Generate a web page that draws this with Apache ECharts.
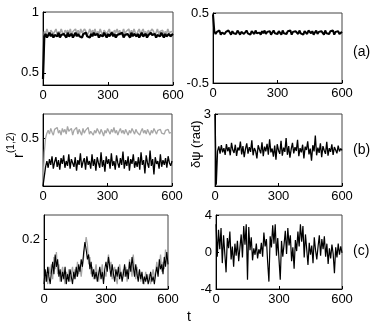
<!DOCTYPE html>
<html>
<head>
<meta charset="utf-8">
<title>r and delta psi vs t</title>
<script src="https://cdn.jsdelivr.net/npm/echarts@6/dist/echarts.min.js"></script>
<style>
  html, body { margin: 0; padding: 0; background: #fff; }
  #main { width: 382px; height: 327px; }
</style>
</head>
<body>
<div id="main"></div>
<script>
// time axis: every series is sampled evenly from t = 0 to t = 600
var T_MAX = 600;
var xTicks = [0, 300, 600];

// row (a)
var aLeftGray = [0.5, 0.84, 0.82, 0.86, 0.83, 0.81, 0.85, 0.86, 0.82, 0.83, 0.86, 0.81, 0.84, 0.82, 0.86, 0.83, 0.81, 0.85, 0.83, 0.85, 0.82, 0.86, 0.81, 0.84, 0.83, 0.86, 0.82, 0.85, 0.81, 0.86, 0.83, 0.82, 0.86, 0.84, 0.81, 0.83, 0.86, 0.82, 0.85, 0.83, 0.86, 0.81, 0.84, 0.82, 0.86, 0.83, 0.81, 0.85, 0.86, 0.82, 0.83, 0.86, 0.81, 0.84, 0.82, 0.85, 0.83, 0.86, 0.82, 0.85, 0.81, 0.83, 0.86, 0.82, 0.84, 0.83, 0.86, 0.81, 0.85, 0.82, 0.86, 0.83, 0.81, 0.84, 0.86, 0.82, 0.83, 0.86, 0.82, 0.84, 0.81, 0.85, 0.83, 0.82, 0.86, 0.84, 0.81, 0.83, 0.86, 0.82, 0.84, 0.83, 0.85, 0.81, 0.84, 0.82, 0.86, 0.83, 0.82, 0.84, 0.83];
var aLeftBlack = [0.45, 0.80, 0.82, 0.79, 0.81, 0.83, 0.80, 0.82, 0.79, 0.81, 0.82, 0.80, 0.83, 0.79, 0.81, 0.80, 0.82, 0.81, 0.79, 0.83, 0.80, 0.81, 0.82, 0.79, 0.81, 0.83, 0.80, 0.82, 0.80, 0.81, 0.79, 0.82, 0.81, 0.83, 0.80, 0.81, 0.79, 0.82, 0.80, 0.83, 0.81, 0.80, 0.82, 0.79, 0.81, 0.82, 0.80, 0.83, 0.81, 0.79, 0.82, 0.80, 0.81, 0.83, 0.80, 0.82, 0.79, 0.81, 0.80, 0.82, 0.81, 0.83, 0.79, 0.81, 0.80, 0.82, 0.81, 0.79, 0.83, 0.80, 0.82, 0.81, 0.80, 0.82, 0.79, 0.81, 0.83, 0.80, 0.81, 0.82, 0.79, 0.81, 0.80, 0.83, 0.81, 0.80, 0.82, 0.79, 0.81, 0.82, 0.80, 0.83, 0.81, 0.79, 0.82, 0.80, 0.81, 0.82, 0.80, 0.81, 0.82];
var aRight = [0.48, 0.24, 0.20, 0.23, 0.21, 0.25, 0.19, 0.22, 0.24, 0.20, 0.23, 0.21, 0.25, 0.22, 0.19, 0.24, 0.21, 0.23, 0.20, 0.25, 0.22, 0.19, 0.23, 0.24, 0.20, 0.22, 0.25, 0.21, 0.23, 0.19, 0.24, 0.22, 0.20, 0.25, 0.21, 0.23, 0.22, 0.19, 0.24, 0.21, 0.25, 0.20, 0.23, 0.22, 0.24, 0.19, 0.22, 0.25, 0.21, 0.23, 0.20, 0.24, 0.22, 0.19, 0.25, 0.21, 0.23, 0.20, 0.24, 0.22, 0.25, 0.19, 0.23, 0.21, 0.24, 0.22, 0.20, 0.25, 0.21, 0.23, 0.19, 0.24, 0.22, 0.20, 0.25, 0.23, 0.21, 0.24, 0.19, 0.22, 0.25, 0.20, 0.23, 0.21, 0.24, 0.22, 0.19, 0.25, 0.21, 0.23, 0.20, 0.24, 0.22, 0.25, 0.19, 0.23, 0.21, 0.24, 0.20, 0.22, 0.23];

// row (b)
var bLeftGray = [0.02, 0.35, 0.50, 0.55, 0.58, 0.54, 0.60, 0.56, 0.53, 0.59, 0.57, 0.61, 0.55, 0.58, 0.53, 0.60, 0.56, 0.59, 0.54, 0.62, 0.57, 0.55, 0.60, 0.53, 0.58, 0.56, 0.61, 0.54, 0.59, 0.57, 0.53, 0.60, 0.55, 0.58, 0.56, 0.61, 0.54, 0.57, 0.59, 0.53, 0.58, 0.55, 0.60, 0.57, 0.54, 0.59, 0.56, 0.52, 0.58, 0.55, 0.60, 0.57, 0.54, 0.59, 0.56, 0.61, 0.55, 0.58, 0.53, 0.57, 0.60, 0.55, 0.58, 0.54, 0.59, 0.56, 0.53, 0.58, 0.55, 0.60, 0.57, 0.54, 0.59, 0.56, 0.58, 0.53, 0.57, 0.60, 0.55, 0.58, 0.54, 0.59, 0.56, 0.53, 0.58, 0.55, 0.60, 0.57, 0.54, 0.58, 0.56, 0.59, 0.55, 0.57, 0.54, 0.58, 0.56, 0.59, 0.55, 0.57, 0.56];
var bLeftBlack = [0.0, 0.10, 0.20, 0.26, 0.19, 0.28, 0.22, 0.31, 0.18, 0.25, 0.30, 0.20, 0.27, 0.17, 0.29, 0.23, 0.32, 0.19, 0.26, 0.21, 0.33, 0.18, 0.28, 0.24, 0.20, 0.30, 0.16, 0.27, 0.22, 0.34, 0.19, 0.25, 0.29, 0.17, 0.31, 0.22, 0.26, 0.18, 0.33, 0.21, 0.28, 0.16, 0.30, 0.24, 0.19, 0.35, 0.20, 0.27, 0.15, 0.31, 0.23, 0.28, 0.18, 0.34, 0.21, 0.26, 0.17, 0.32, 0.24, 0.19, 0.29, 0.22, 0.36, 0.18, 0.27, 0.21, 0.31, 0.16, 0.28, 0.23, 0.33, 0.19, 0.26, 0.20, 0.30, 0.17, 0.35, 0.22, 0.27, 0.13, 0.32, 0.24, 0.19, 0.37, 0.21, 0.28, 0.12, 0.30, 0.23, 0.26, 0.18, 0.33, 0.20, 0.27, 0.22, 0.29, 0.19, 0.31, 0.24, 0.21, 0.26];
var bRight = [3.0, 0.05, 1.45, 1.65, 1.35, 1.70, 1.40, 1.58, 1.30, 1.75, 1.45, 1.62, 1.28, 1.80, 1.50, 1.38, 1.72, 1.25, 1.60, 1.48, 1.85, 1.32, 1.66, 1.20, 1.55, 1.78, 1.35, 1.62, 1.42, 1.90, 1.28, 1.58, 1.46, 1.15, 1.70, 1.52, 1.36, 1.82, 1.24, 1.64, 1.44, 1.76, 1.30, 1.95, 1.40, 1.56, 1.22, 1.68, 1.10, 1.74, 1.48, 1.34, 1.88, 1.26, 1.60, 1.42, 2.00, 1.30, 1.66, 1.18, 1.54, 1.80, 1.36, 1.62, 1.46, 1.92, 1.24, 1.58, 1.40, 1.72, 1.15, 1.64, 1.50, 1.86, 1.32, 1.56, 1.05, 1.70, 1.44, 2.10, 1.28, 1.60, 1.38, 1.78, 1.20, 1.66, 1.48, 1.34, 1.84, 1.26, 1.58, 1.42, 1.74, 1.30, 1.62, 1.50, 1.36, 1.68, 1.44, 1.56, 1.48];

// row (c)
var cLeftGray = [0.05, 0.03, 0.07, 0.02, 0.09, 0.06, 0.10, 0.04, 0.13, 0.08, 0.15, 0.06, 0.10, 0.03, 0.06, 0.09, 0.05, 0.02, 0.07, 0.04, 0.08, 0.03, 0.06, 0.09, 0.04, 0.08, 0.05, 0.11, 0.06, 0.09, 0.05, 0.10, 0.13, 0.17, 0.21, 0.18, 0.10, 0.13, 0.06, 0.09, 0.04, 0.07, 0.10, 0.05, 0.03, 0.08, 0.06, 0.10, 0.04, 0.07, 0.05, 0.10, 0.14, 0.08, 0.11, 0.04, 0.07, 0.09, 0.05, 0.02, 0.07, 0.10, 0.06, 0.04, 0.08, 0.05, 0.09, 0.03, 0.07, 0.12, 0.08, 0.05, 0.14, 0.07, 0.04, 0.09, 0.05, 0.07, 0.03, 0.06, 0.04, 0.02, 0.07, 0.04, 0.03, 0.06, 0.02, 0.05, 0.08, 0.04, 0.07, 0.11, 0.06, 0.09, 0.14, 0.07, 0.11, 0.08, 0.16, 0.12, 0.09];
var cLeftBlack = [0.02, 0.08, 0.03, 0.09, 0.05, 0.02, 0.07, 0.11, 0.06, 0.14, 0.09, 0.12, 0.05, 0.08, 0.03, 0.07, 0.04, 0.09, 0.02, 0.06, 0.03, 0.08, 0.05, 0.02, 0.07, 0.04, 0.09, 0.05, 0.10, 0.07, 0.12, 0.09, 0.15, 0.19, 0.16, 0.12, 0.14, 0.08, 0.11, 0.05, 0.08, 0.04, 0.07, 0.03, 0.06, 0.09, 0.04, 0.07, 0.02, 0.08, 0.11, 0.07, 0.13, 0.09, 0.05, 0.10, 0.06, 0.03, 0.08, 0.05, 0.09, 0.04, 0.07, 0.03, 0.06, 0.10, 0.05, 0.08, 0.04, 0.11, 0.07, 0.13, 0.09, 0.05, 0.10, 0.06, 0.03, 0.08, 0.04, 0.07, 0.02, 0.05, 0.03, 0.06, 0.02, 0.04, 0.07, 0.03, 0.05, 0.02, 0.06, 0.09, 0.05, 0.12, 0.08, 0.10, 0.06, 0.13, 0.09, 0.15, 0.10];
var cRight = [3.0, -0.5, 2.4, 0.3, 2.6, -1.2, 1.8, -0.2, -2.2, 1.5, 0.4, 2.2, -0.8, 0.6, -1.6, 0.9, -0.4, 1.2, -1.0, 0.5, 1.9, -0.6, 2.8, 0.8, 3.0, -3.0, 2.7, 0.2, 1.6, -0.9, 0.4, -0.3, 0.9, -0.7, 0.3, -0.2, 1.0, -0.5, 2.1, 0.6, 1.4, -1.1, -3.2, 1.7, 0.5, 2.9, 0.9, 3.0, -0.4, 1.5, -0.8, -3.0, 1.2, -0.5, 0.8, 2.3, -0.2, 2.6, 0.7, 1.8, -1.0, 0.5, -1.8, 1.3, 0.1, 2.2, 0.6, 3.0, 1.1, 2.8, -0.6, 1.9, 0.3, -1.4, 1.0, -0.3, 0.7, -1.2, 1.6, 0.2, -0.8, 0.6, 1.8, -0.4, 1.4, 0.3, 1.7, -0.5, 0.9, -1.3, 0.4, -0.7, 0.8, -0.2, -2.3, 0.5, -0.6, 0.9, -0.3, 0.6, -0.1];

// y ranges and labelled ticks of each panel
var yRanges = [[0.4, 1], [-0.5, 0.5], [0, 0.75], [0, 3], [0, 0.3], [-4, 4]];
var yTicks = [[0.5, 1], [-0.5, 0.5], [0.5], [3], [0.2], [-4, 0, 4]];

function timed(vals) {
  var step = T_MAX / (vals.length - 1);
  return vals.map(function (v, i) { return [i * step, v]; });
}

var FONT = 'Liberation Sans, Arial, sans-serif';
var GRAY = '#a6a6a6';

var grids = [
  { left: 43, top: 12, width: 130, height: 73 },
  { left: 213, top: 13, width: 129, height: 70 },
  { left: 43, top: 114, width: 129, height: 72 },
  { left: 215, top: 114, width: 127, height: 72 },
  { left: 44, top: 215, width: 124, height: 74 },
  { left: 216, top: 215, width: 126, height: 74 }
];

var myChart = echarts.init(document.getElementById('main'), null, { renderer: 'canvas' });

var option = {
  animation: false,
  backgroundColor: '#fff',
  textStyle: { fontFamily: FONT },
  grid: grids.map(function (g) {
    return Object.assign({ show: true, borderColor: '#444', borderWidth: 1, backgroundColor: 'transparent' }, g);
  }),
  xAxis: grids.map(function (g, i) {
    return {
      type: 'value', gridIndex: i, min: 0, max: T_MAX, interval: 300,
      axisLine: { show: true, onZero: false, lineStyle: { color: '#000', width: 1 } },
      axisTick: { show: true, inside: true, length: 3, lineStyle: { color: '#000' }, customValues: xTicks },
      axisLabel: { color: '#000', fontSize: 13, fontFamily: FONT, margin: 4, customValues: xTicks },
      splitLine: { show: false }
    };
  }),
  yAxis: grids.map(function (g, i) {
    return {
      type: 'value', gridIndex: i, min: yRanges[i][0], max: yRanges[i][1],
      axisLine: { show: true, onZero: false, lineStyle: { color: '#000', width: 1 } },
      axisTick: { show: true, inside: true, length: 3, lineStyle: { color: '#000' }, customValues: yTicks[i] },
      axisLabel: { color: '#000', fontSize: 13, fontFamily: FONT, margin: 4, customValues: yTicks[i] },
      splitLine: { show: false }
    };
  }),
  series: [
    [aLeftGray, 0, GRAY, 1.6], [aLeftBlack, 0, '#000', 2.2],
    [aRight, 1, '#000', 2],
    [bLeftGray, 2, GRAY, 1.3], [bLeftBlack, 2, '#000', 1.3],
    [bRight, 3, '#000', 1.3],
    [cLeftGray, 4, GRAY, 1.3], [cLeftBlack, 4, '#000', 1.1],
    [cRight, 5, '#000', 1.2]
  ].map(function (s) {
    return {
      type: 'line', xAxisIndex: s[1], yAxisIndex: s[1],
      data: timed(s[0]), showSymbol: false, silent: true,
      lineStyle: { color: s[2], width: s[3] }
    };
  }),
  graphic: [
    { type: 'text', x: 353, y: 45, style: { text: '(a)', fontSize: 14, fontFamily: FONT, fill: '#000' } },
    { type: 'text', x: 353, y: 143, style: { text: '(b)', fontSize: 14, fontFamily: FONT, fill: '#000' } },
    { type: 'text', x: 353, y: 244, style: { text: '(c)', fontSize: 14, fontFamily: FONT, fill: '#000' } },
    { type: 'text', x: 187, y: 310, style: { text: 't', fontSize: 14, fontFamily: FONT, fill: '#000' } },
    {
      type: 'text', x: 6, y: 158, rotation: Math.PI / 2,
      style: {
        text: '{r|r}{s|(1,2)}', fill: '#000', fontFamily: FONT,
        rich: {
          r: { fontSize: 15, fontFamily: FONT, verticalAlign: 'bottom', lineHeight: 20 },
          s: { fontSize: 10, fontFamily: FONT, verticalAlign: 'top', lineHeight: 20 }
        }
      }
    },
    {
      type: 'text', x: 190, y: 168, rotation: Math.PI / 2,
      style: { text: 'δψ (rad)', fontSize: 13, fontFamily: FONT, fill: '#000' }
    }
  ]
};

myChart.setOption(option);
</script>
</body>
</html>
